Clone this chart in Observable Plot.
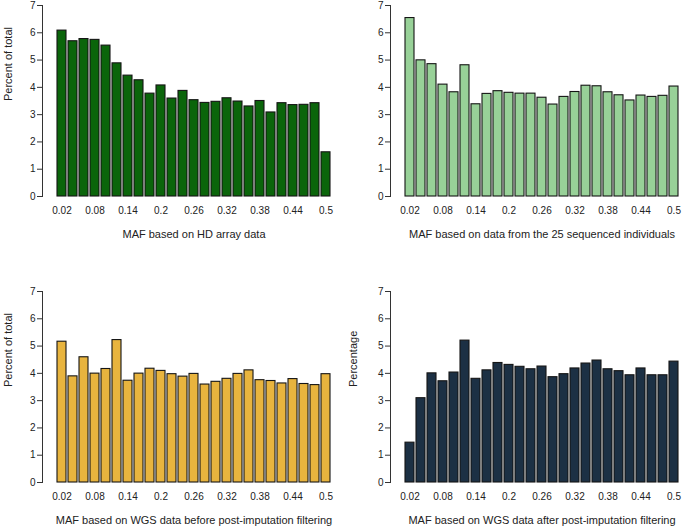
<!DOCTYPE html>
<html>
<head>
<meta charset="utf-8">
<script src="https://cdn.jsdelivr.net/npm/d3@7"></script>
<script src="https://cdn.jsdelivr.net/npm/@observablehq/plot@0.6"></script>
<style>
  html, body { margin: 0; padding: 0; background: #fff; }
  #wrap { position: relative; width: 685px; height: 529px; overflow: hidden; }
  #wrap > div, #wrap > svg { position: absolute; }
</style>
</head>
<body>
<div id="wrap"></div>
<script>
// MAF bins (categories)
const mafBins = ["0.02","0.04","0.06","0.08","0.1","0.12","0.14","0.16","0.18","0.2",
  "0.22","0.24","0.26","0.28","0.3","0.32","0.34","0.36","0.38","0.4",
  "0.42","0.44","0.46","0.48","0.5"];
const mafTickLabels = ["0.02","0.08","0.14","0.2","0.26","0.32","0.38","0.44","0.5"];
const yTicks = [0, 1, 2, 3, 4, 5, 6, 7];

// Series values (percent of total)
const hdArray = [6.08, 5.69, 5.77, 5.74, 5.53, 4.88, 4.43, 4.26, 3.77, 4.07,
  3.59, 3.87, 3.53, 3.43, 3.47, 3.60, 3.48, 3.30, 3.50, 3.08,
  3.42, 3.35, 3.36, 3.42, 1.62];
const seq25 = [6.54, 4.99, 4.85, 4.10, 3.82, 4.81, 3.38, 3.76, 3.86, 3.80,
  3.77, 3.77, 3.62, 3.37, 3.65, 3.83, 4.06, 4.04, 3.82, 3.71,
  3.52, 3.70, 3.65, 3.69, 4.03];
const wgsBefore = [5.16, 3.89, 4.59, 3.99, 4.16, 5.22, 3.73, 3.99, 4.17, 4.09,
  3.97, 3.88, 3.98, 3.59, 3.69, 3.80, 3.98, 4.11, 3.75, 3.72,
  3.63, 3.79, 3.61, 3.57, 3.97];
const wgsAfter = [1.46, 3.09, 4.00, 3.71, 4.03, 5.20, 3.80, 4.11, 4.38, 4.31,
  4.24, 4.15, 4.25, 3.86, 3.97, 4.18, 4.36, 4.47, 4.15, 4.08,
  3.93, 4.18, 3.93, 3.93, 4.43];

const panels = [
  {values: hdArray, fill: "#0b650b", xlabel: "MAF based on HD array data", ylabel: "Percent of total",
   left: 0, top: 0, width: 342, height: 264, mL: 53, mR: 8, mT: 5, mB: 68, ylDx: -45},
  {values: seq25, fill: "#98d198", xlabel: "MAF based on data from the 25 sequenced individuals", ylabel: "",
   left: 342, top: 0, width: 343, height: 264, mL: 59, mR: 3, mT: 5, mB: 68, ylDx: -48},
  {values: wgsBefore, fill: "#e8b43e", xlabel: "MAF based on WGS data before post-imputation filtering", ylabel: "Percent of total",
   left: 0, top: 264, width: 342, height: 265, mL: 53, mR: 8, mT: 27, mB: 47, ylDx: -45},
  {values: wgsAfter, fill: "#1c3044", xlabel: "MAF based on WGS data after post-imputation filtering", ylabel: "Percentage",
   left: 342, top: 264, width: 343, height: 265, mL: 59, mR: 3, mT: 27, mB: 47, ylDx: -48}
];

const wrap = document.getElementById("wrap");
for (const p of panels) {
  const data = mafBins.map((m, i) => ({maf: m, pct: p.values[i]}));
  const chart = Plot.plot({
    width: p.width,
    height: p.height,
    marginLeft: p.mL, marginRight: p.mR, marginTop: p.mT, marginBottom: p.mB,
    style: {fontFamily: "'Liberation Sans', Arial, sans-serif", color: "#222", background: "white", overflow: "visible"},
    x: {type: "band", domain: mafBins, paddingInner: 0.1667, paddingOuter: 0, axis: null},
    y: {domain: [0, 7], axis: null},
    marks: [
      Plot.rectY(data, {x: "maf", y: "pct", fill: p.fill, stroke: "#151515", strokeWidth: 1.1}),
      Plot.frame({anchor: "left", dx: -11, stroke: "#333"}),
      Plot.axisY({ticks: yTicks, tickFormat: d => String(d), tickSize: 5, tickPadding: 2, dx: -11, fontSize: 10, stroke: "#333", label: null}),
      Plot.axisX({ticks: mafTickLabels, tickSize: 0, tickPadding: 10, fontSize: 10, label: null}),
      Plot.text([p.xlabel], {text: d => d, frameAnchor: "bottom", dy: 41, fontSize: 11, fill: "#222"}),
      ...(p.ylabel ? [Plot.text([p.ylabel], {text: d => d, frameAnchor: "left", dx: p.ylDx, rotate: -90, fontSize: 11, fill: "#222"})] : [])
    ]
  });
  chart.style.left = p.left + "px";
  chart.style.top = p.top + "px";
  wrap.appendChild(chart);
}
</script>
</body>
</html>
